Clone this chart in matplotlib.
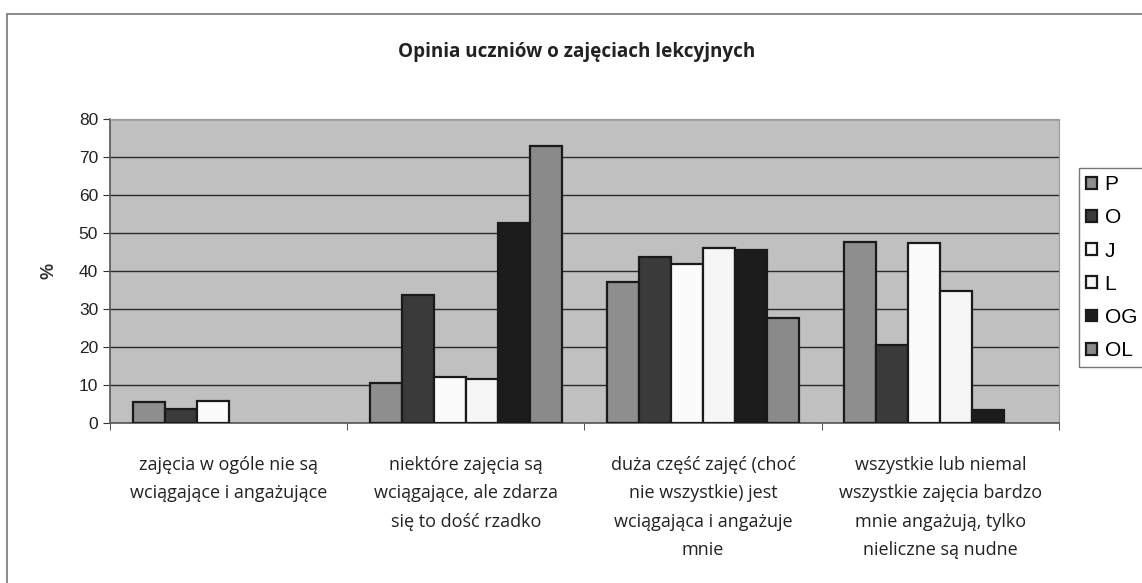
import matplotlib
matplotlib.use("Agg")
import matplotlib.pyplot as plt
from matplotlib.patches import Rectangle
import numpy as np

categories = [
    "zajęcia w ogóle nie są\nwciągające i angażujące",
    "niektóre zajęcia są\nwciągające, ale zdarza\nsię to dość rzadko",
    "duża część zajęć (choć\nnie wszystkie) jest\nwciągająca i angażuje\nmnie",
    "wszystkie lub niemal\nwszystkie zajęcia bardzo\nmnie angażują, tylko\nnieliczne są nudne",
]
series = ["P", "O", "J", "L", "OG", "OL"]
P = [5.6, 10.6, 37.1, 47.7]
O = [3.6, 33.7, 43.8, 20.5]
J = [5.9, 12.0, 41.8, 47.5]
L = [0, 11.5, 46.1, 34.8]
OG = [0, 52.7, 45.5, 3.4]
OL = [0, 72.9, 27.7, 0]
values = [P, O, J, L, OG, OL]
colors = ["#8e8e8e", "#3a3a3a", "#fbfbfb", "#f6f6f6", "#1c1c1c", "#8a8a8a"]

fig = plt.figure(figsize=(11.42, 5.83), dpi=100)
ax = fig.add_axes([0.0963, 0.2744, 0.831, 0.5215])
ax.set_facecolor("#c0c0c0")

x = np.arange(len(categories))
n = len(series)
group = 0.81
w = group / n
containers = []
for i, (name, vals, c) in enumerate(zip(series, values, colors)):
    pos = x - group / 2 + w * (i + 0.5)
    bars = ax.bar(pos, vals, width=w, color=c, edgecolor="#1a1a1a",
                  linewidth=1.6, label=name, zorder=3)
    containers.append(bars)

ax.set_xlim(-0.5, len(categories) - 0.5)
ax.set_ylim(0, 80)
ax.set_yticks(range(0, 81, 10))
ax.yaxis.grid(True, color="#2a2a2a", linewidth=1.0, zorder=1)
ax.set_axisbelow(True)
ax.set_xticks(np.arange(len(categories) + 1) - 0.5, minor=True)
ax.set_xticks(x)
ax.set_xticklabels(categories, fontsize=13, family="Open Sans", color="#222222",
                   linespacing=1.72, va="top")
ax.tick_params(axis="x", which="major", length=0, pad=24)
ax.tick_params(axis="x", which="minor", length=5, color="#333333")
ax.tick_params(axis="y", length=5, color="#333333", labelsize=12.5,
               labelcolor="#222222")
for lbl in ax.get_yticklabels():
    lbl.set_family("Liberation Sans")

for side in ["left", "bottom"]:
    ax.spines[side].set_color("#555555")
    ax.spines[side].set_linewidth(1.2)
ax.spines["top"].set_color("#9a9a9a")
ax.spines["right"].set_color("#9a9a9a")

ax.set_ylabel("%", fontsize=13, family="Liberation Sans", fontweight="bold",
              color="#333333", labelpad=15)

fig.text(0.505, 0.911, "Opinia uczniów o zajęciach lekcyjnych", ha="center",
         va="center", fontsize=13.6, fontweight="bold", family="Open Sans",
         color="#222222")

leg = ax.legend(loc="upper left", bbox_to_anchor=(1.021, 0.839), frameon=True,
                fancybox=False, edgecolor="#555555",
                prop={"family": "Liberation Sans", "size": 15},
                handlelength=0.5, handleheight=0.5, handletextpad=0.38,
                labelspacing=0.68, borderpad=0.35, borderaxespad=0)
leg.get_frame().set_linewidth(1.0)

# no outline for empty bars (after legend so handles keep their edges)
for bars in containers:
    for b in bars:
        if b.get_height() == 0:
            b.set_linewidth(0)

frame = Rectangle((7 / 1142, -0.1), 1.2, 1 - 14 / 583 + 0.1,
                  transform=fig.transFigure, fill=False,
                  edgecolor="#777777", linewidth=1.2)
fig.patches.append(frame)

fig.savefig("out.png", dpi=100)
